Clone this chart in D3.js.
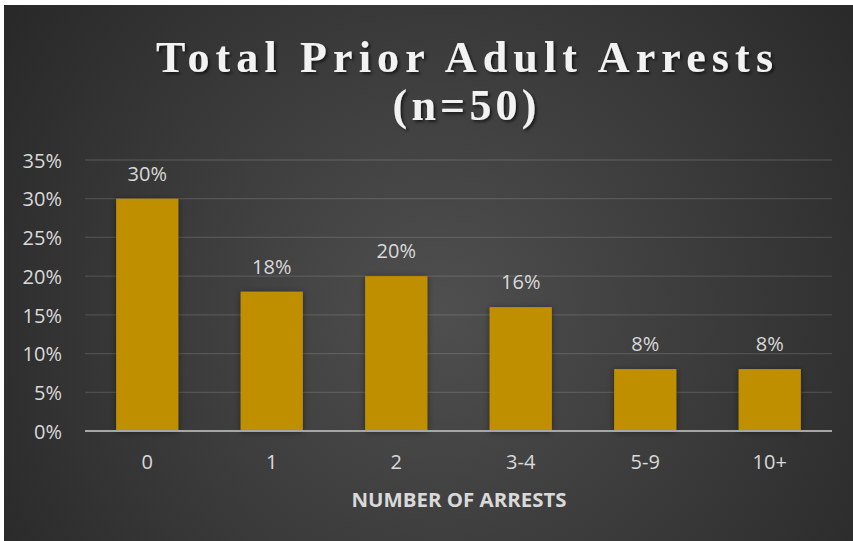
<!DOCTYPE html>
<html>
<head>
<meta charset="utf-8">
<script src="https://cdn.jsdelivr.net/npm/d3@7"></script>
<style>
  html, body { margin: 0; padding: 0; background: #ffffff; }
  svg { display: block; }
</style>
</head>
<body>
<script>
const categories = ["0", "1", "2", "3-4", "5-9", "10+"];
const values = [0.30, 0.18, 0.20, 0.16, 0.08, 0.08];
const yTicks = [0, 0.05, 0.10, 0.15, 0.20, 0.25, 0.30, 0.35];
const titleLines = ["Total Prior Adult Arrests", "(n=50)"];
const xAxisTitle = "NUMBER OF ARRESTS";

const W = 853, H = 541;
const svg = d3.select("body").append("svg").attr("width", W).attr("height", H);
const defs = svg.append("defs");

const grad = defs.append("radialGradient").attr("id", "bg")
  .attr("gradientUnits", "userSpaceOnUse")
  .attr("cx", 440).attr("cy", 310).attr("r", 560);
grad.append("stop").attr("offset", "0").attr("stop-color", "#4f4f4f");
grad.append("stop").attr("offset", "1").attr("stop-color", "#262626");

const shadow = defs.append("filter").attr("id", "barShadow")
  .attr("x", "-30%").attr("y", "-30%").attr("width", "160%").attr("height", "160%");
shadow.append("feDropShadow").attr("dx", 0).attr("dy", 1).attr("stdDeviation", 3)
  .attr("flood-color", "#000").attr("flood-opacity", 0.45);

const tshadow = defs.append("filter").attr("id", "textShadow")
  .attr("x", "-10%").attr("y", "-30%").attr("width", "120%").attr("height", "160%");
tshadow.append("feDropShadow").attr("dx", 2).attr("dy", 2).attr("stdDeviation", 1.5)
  .attr("flood-color", "#000").attr("flood-opacity", 0.6);

svg.append("rect").attr("x", 0).attr("y", 0).attr("width", W).attr("height", H).attr("fill", "#ffffff");
svg.append("rect").attr("x", 4).attr("y", 5).attr("width", W - 4).attr("height", H - 5).attr("fill", "url(#bg)");

const x = d3.scaleBand().domain(categories).range([85, 832]).paddingInner(0.5).paddingOuter(0.25);
const y = d3.scaleLinear().domain([0, 0.35]).range([431, 160]);

const labelFont = "'Open Sans', sans-serif";

// gridlines
svg.append("g").selectAll("line").data(yTicks.filter(d => d > 0)).join("line")
  .attr("x1", 85).attr("x2", 832)
  .attr("y1", d => y(d)).attr("y2", d => y(d))
  .attr("stroke", "#ffffff").attr("stroke-opacity", 0.13).attr("stroke-width", 1.3);

// y axis labels
const yAxis = d3.axisLeft(y).tickValues(yTicks).tickFormat(d3.format(".0%")).tickSize(0).tickPadding(0);
const yg = svg.append("g").attr("transform", "translate(62,0)").call(yAxis);
yg.select(".domain").remove();
yg.selectAll("text").attr("fill", "#d9d9d9").attr("font-family", labelFont).attr("font-size", 20).attr("dy", "0.36em");

// bars
svg.append("g").selectAll("rect").data(values).join("rect")
  .attr("x", (d, i) => x(categories[i]))
  .attr("y", d => y(d))
  .attr("width", x.bandwidth())
  .attr("height", d => y(0) - y(d))
  .attr("fill", "#bf8f00")
  .attr("filter", "url(#barShadow)");

// baseline
svg.append("line").attr("x1", 85).attr("x2", 832).attr("y1", y(0)).attr("y2", y(0))
  .attr("stroke", "#a6a6a6").attr("stroke-width", 2);

// data labels
svg.append("g").selectAll("text").data(values).join("text")
  .attr("x", (d, i) => x(categories[i]) + x.bandwidth() / 2)
  .attr("y", d => y(d) - 18)
  .attr("text-anchor", "middle")
  .attr("fill", "#d9d9d9")
  .attr("font-family", labelFont).attr("font-size", 20)
  .text(d => d3.format(".0%")(d));

// x axis labels
const xAxis = d3.axisBottom(x).tickSize(0).tickPadding(0);
const xg = svg.append("g").attr("transform", "translate(0,469)").call(xAxis);
xg.select(".domain").remove();
xg.selectAll("text").attr("fill", "#d9d9d9").attr("font-family", labelFont).attr("font-size", 20).attr("dy", 0);

// axis title
svg.append("text").attr("x", 459).attr("y", 507).attr("text-anchor", "middle")
  .attr("fill", "#d9d9d9").attr("font-family", labelFont).attr("font-weight", "bold").attr("font-size", 20)
  .attr("textLength", 215).attr("lengthAdjust", "spacingAndGlyphs")
  .text(xAxisTitle);

// title
const titleLen = [617, 144];
const titleY = [72, 120];
titleLines.forEach((t, i) => {
  svg.append("text").attr("x", 464.5).attr("y", titleY[i]).attr("text-anchor", "middle")
    .attr("fill", "#f2f2f2").attr("font-family", "'Liberation Serif', serif").attr("font-weight", "bold").attr("font-size", 44)
    .attr("textLength", titleLen[i]).attr("lengthAdjust", "spacing")
    .attr("filter", "url(#textShadow)")
    .text(t);
});
</script>
</body>
</html>
